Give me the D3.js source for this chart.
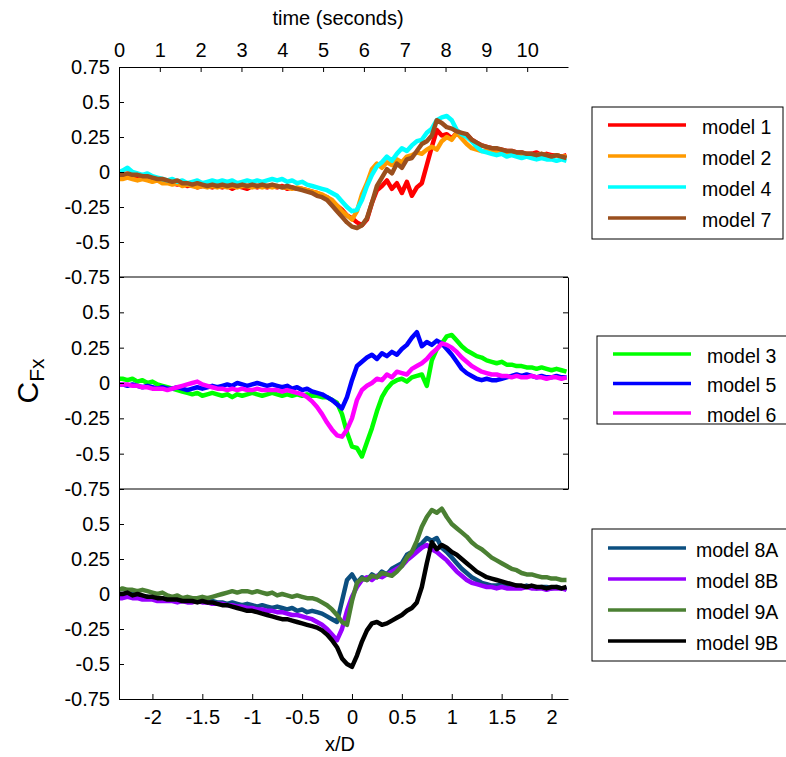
<!DOCTYPE html>
<html>
<head>
<meta charset="utf-8">
<script src="https://cdn.jsdelivr.net/npm/d3@7"></script>
<style>
  html, body { margin: 0; background: #fff; overflow: hidden; }
  svg { display: block; }
  text { font-family: "Liberation Sans", Arial, sans-serif; fill: #000; }
</style>
</head>
<body>
<div class="canvas"></div>
<script>
// sample positions (x/D)
const xd = [-2.33,
  -2.30,-2.25,-2.20,-2.15,-2.10,-2.05,-2.00,-1.95,-1.90,-1.85,
  -1.80,-1.75,-1.70,-1.65,-1.60,-1.55,-1.50,-1.45,-1.40,-1.35,
  -1.30,-1.25,-1.20,-1.15,-1.10,-1.05,-1.00,-0.95,-0.90,-0.85,
  -0.80,-0.75,-0.70,-0.65,-0.60,-0.55,-0.50,-0.45,-0.40,-0.35,
  -0.30,-0.25,-0.20,-0.15,-0.10,-0.05,0.00,0.05,0.10,0.15,
  0.20,0.25,0.30,0.35,0.40,0.45,0.50,0.55,0.60,0.65,
  0.70,0.75,0.80,0.85,0.90,0.95,1.00,1.05,1.10,1.15,
  1.20,1.25,1.30,1.35,1.40,1.45,1.50,1.55,1.60,1.65,
  1.70,1.75,1.80,1.85,1.90,1.95,2.00,2.05,2.10,2.15];

// top panel
const model1 = [-0.03,
  -0.03,-0.02,-0.03,-0.04,-0.03,-0.05,-0.05,-0.06,-0.07,-0.07,
  -0.08,-0.09,-0.08,-0.10,-0.09,-0.11,-0.10,-0.10,-0.11,-0.10,
  -0.11,-0.10,-0.12,-0.10,-0.11,-0.12,-0.10,-0.11,-0.10,-0.11,
  -0.10,-0.11,-0.10,-0.12,-0.11,-0.12,-0.12,-0.13,-0.14,-0.15,
  -0.17,-0.18,-0.21,-0.24,-0.27,-0.31,-0.33,-0.36,-0.38,-0.34,
  -0.22,-0.13,-0.10,-0.06,-0.12,-0.08,-0.15,-0.07,-0.17,-0.11,
  -0.08,0.05,0.18,0.30,0.26,0.27,0.24,0.28,0.26,0.27,
  0.23,0.21,0.19,0.18,0.17,0.16,0.16,0.15,0.15,0.14,
  0.14,0.13,0.13,0.14,0.12,0.13,0.12,0.12,0.11,0.12];
const model2 = [-0.05,
  -0.05,-0.04,-0.05,-0.06,-0.05,-0.06,-0.07,-0.06,-0.08,-0.08,
  -0.09,-0.08,-0.10,-0.09,-0.10,-0.11,-0.10,-0.11,-0.10,-0.11,
  -0.10,-0.11,-0.10,-0.11,-0.10,-0.10,-0.11,-0.10,-0.11,-0.10,
  -0.11,-0.10,-0.11,-0.11,-0.12,-0.11,-0.12,-0.13,-0.14,-0.15,
  -0.16,-0.18,-0.20,-0.24,-0.28,-0.31,-0.34,-0.28,-0.16,-0.08,
  0.02,0.06,0.03,0.07,0.05,0.09,0.07,0.11,0.12,0.14,
  0.13,0.16,0.18,0.16,0.22,0.25,0.23,0.28,0.24,0.20,
  0.17,0.16,0.15,0.15,0.14,0.14,0.13,0.14,0.13,0.13,
  0.12,0.13,0.12,0.12,0.13,0.12,0.11,0.12,0.11,0.11];
const model4 = [0.00,
  0.01,0.03,0.00,-0.01,-0.02,-0.01,-0.03,-0.04,-0.05,-0.06,
  -0.05,-0.07,-0.06,-0.08,-0.07,-0.06,-0.08,-0.07,-0.06,-0.07,
  -0.06,-0.07,-0.06,-0.08,-0.07,-0.06,-0.07,-0.06,-0.07,-0.06,
  -0.05,-0.06,-0.05,-0.07,-0.06,-0.08,-0.07,-0.09,-0.10,-0.11,
  -0.12,-0.13,-0.15,-0.17,-0.21,-0.25,-0.28,-0.27,-0.20,-0.10,
  -0.02,0.04,0.07,0.11,0.08,0.13,0.17,0.15,0.19,0.22,
  0.23,0.28,0.31,0.37,0.39,0.40,0.37,0.30,0.27,0.25,
  0.22,0.18,0.15,0.14,0.13,0.12,0.13,0.11,0.12,0.11,
  0.10,0.11,0.10,0.09,0.10,0.09,0.09,0.08,0.09,0.08];
const model7 = [-0.02,
  -0.02,-0.01,-0.02,-0.02,-0.03,-0.03,-0.04,-0.05,-0.05,-0.06,
  -0.07,-0.06,-0.08,-0.08,-0.09,-0.08,-0.09,-0.10,-0.09,-0.10,
  -0.09,-0.10,-0.09,-0.10,-0.09,-0.10,-0.09,-0.10,-0.09,-0.10,
  -0.09,-0.10,-0.11,-0.10,-0.11,-0.12,-0.13,-0.14,-0.15,-0.17,
  -0.18,-0.20,-0.24,-0.28,-0.32,-0.36,-0.39,-0.40,-0.38,-0.33,
  -0.22,-0.10,-0.04,0.02,-0.01,0.06,0.03,0.09,0.10,0.15,
  0.20,0.22,0.26,0.37,0.35,0.32,0.31,0.29,0.28,0.27,
  0.23,0.21,0.19,0.18,0.17,0.17,0.16,0.15,0.15,0.14,
  0.14,0.13,0.13,0.12,0.13,0.12,0.11,0.12,0.11,0.10];

// middle panel
const model3 = [0.03,
  0.03,0.02,0.03,0.01,0.02,0.00,0.01,-0.01,-0.02,-0.03,
  -0.04,-0.05,-0.06,-0.07,-0.08,-0.07,-0.09,-0.08,-0.07,-0.08,
  -0.09,-0.08,-0.10,-0.08,-0.09,-0.08,-0.07,-0.08,-0.09,-0.08,
  -0.07,-0.08,-0.09,-0.08,-0.09,-0.08,-0.09,-0.08,-0.09,-0.09,
  -0.10,-0.10,-0.12,-0.14,-0.22,-0.35,-0.45,-0.46,-0.52,-0.42,
  -0.32,-0.20,-0.10,-0.04,0.00,0.02,0.03,0.01,0.04,0.05,
  0.06,-0.02,0.16,0.24,0.28,0.33,0.34,0.30,0.26,0.23,
  0.21,0.19,0.18,0.16,0.15,0.14,0.15,0.13,0.13,0.12,
  0.12,0.11,0.11,0.10,0.11,0.10,0.09,0.10,0.09,0.08];
const model5 = [-0.01,
  -0.01,-0.02,-0.01,-0.02,-0.03,-0.02,-0.03,-0.04,-0.03,-0.04,
  -0.04,-0.03,-0.04,-0.05,-0.04,-0.03,-0.04,-0.03,-0.02,-0.03,
  -0.02,-0.01,-0.02,0.00,-0.01,-0.02,-0.01,0.00,-0.01,-0.02,
  -0.01,-0.02,-0.03,-0.02,-0.04,-0.03,-0.05,-0.04,-0.06,-0.07,
  -0.08,-0.10,-0.12,-0.15,-0.18,-0.10,0.02,0.12,0.15,0.18,
  0.20,0.17,0.21,0.19,0.22,0.20,0.24,0.27,0.32,0.36,
  0.26,0.29,0.27,0.30,0.28,0.24,0.20,0.15,0.10,0.07,
  0.05,0.03,0.02,0.03,0.02,0.02,0.03,0.04,0.05,0.06,
  0.05,0.06,0.05,0.04,0.05,0.04,0.04,0.05,0.04,0.04];
const model6 = [-0.01,
  -0.01,-0.01,-0.02,-0.02,-0.03,-0.03,-0.04,-0.04,-0.04,-0.05,
  -0.04,-0.03,-0.02,-0.01,0.00,0.01,-0.01,-0.02,-0.03,-0.04,
  -0.04,-0.05,-0.04,-0.05,-0.04,-0.05,-0.05,-0.04,-0.05,-0.05,
  -0.05,-0.05,-0.06,-0.05,-0.06,-0.07,-0.08,-0.10,-0.13,-0.17,
  -0.22,-0.28,-0.33,-0.37,-0.38,-0.33,-0.25,-0.12,-0.05,-0.02,
  0.00,0.03,0.02,0.06,0.04,0.08,0.07,0.06,0.10,0.12,
  0.14,0.17,0.21,0.24,0.28,0.27,0.25,0.22,0.18,0.15,
  0.12,0.10,0.08,0.07,0.06,0.06,0.05,0.05,0.04,0.05,
  0.04,0.04,0.05,0.04,0.04,0.03,0.04,0.04,0.03,0.04];

// bottom panel
const model8A = [0.00,
  0.00,-0.01,0.00,-0.01,-0.02,-0.02,-0.03,-0.03,-0.03,-0.04,
  -0.04,-0.04,-0.05,-0.05,-0.04,-0.05,-0.05,-0.06,-0.05,-0.06,
  -0.06,-0.07,-0.06,-0.07,-0.08,-0.07,-0.08,-0.09,-0.08,-0.09,
  -0.10,-0.09,-0.10,-0.11,-0.10,-0.12,-0.11,-0.13,-0.12,-0.13,
  -0.14,-0.16,-0.18,-0.20,-0.05,0.10,0.14,0.08,0.12,0.10,
  0.14,0.12,0.16,0.14,0.18,0.20,0.22,0.28,0.30,0.34,
  0.36,0.40,0.38,0.40,0.33,0.30,0.26,0.22,0.18,0.15,
  0.12,0.10,0.08,0.07,0.06,0.06,0.07,0.06,0.05,0.06,
  0.05,0.06,0.05,0.04,0.05,0.05,0.04,0.05,0.04,0.04];
const model8B = [-0.03,
  -0.03,-0.02,-0.03,-0.03,-0.04,-0.04,-0.04,-0.05,-0.05,-0.05,
  -0.05,-0.06,-0.05,-0.06,-0.06,-0.05,-0.06,-0.06,-0.07,-0.07,
  -0.07,-0.08,-0.08,-0.09,-0.09,-0.10,-0.10,-0.11,-0.11,-0.12,
  -0.12,-0.13,-0.13,-0.14,-0.15,-0.15,-0.16,-0.17,-0.18,-0.20,
  -0.22,-0.25,-0.29,-0.33,-0.25,-0.12,-0.02,0.05,0.10,0.12,
  0.10,0.13,0.12,0.14,0.16,0.18,0.20,0.24,0.27,0.30,
  0.33,0.35,0.32,0.30,0.27,0.24,0.20,0.16,0.13,0.10,
  0.08,0.07,0.06,0.05,0.05,0.04,0.05,0.04,0.04,0.04,
  0.04,0.05,0.04,0.04,0.04,0.03,0.04,0.04,0.04,0.03];
const model9A = [0.03,
  0.04,0.03,0.03,0.02,0.03,0.02,0.01,0.00,0.01,-0.01,
  -0.02,-0.01,-0.03,-0.02,-0.03,-0.03,-0.02,-0.03,-0.02,-0.01,
  0.00,0.01,0.02,0.01,0.02,0.02,0.01,0.02,0.01,0.00,
  0.01,-0.01,0.00,-0.01,-0.02,-0.01,-0.02,-0.03,-0.03,-0.04,
  -0.06,-0.08,-0.11,-0.15,-0.20,-0.22,-0.05,0.08,0.11,0.10,
  0.13,0.12,0.15,0.14,0.13,0.16,0.20,0.26,0.30,0.38,
  0.48,0.55,0.60,0.58,0.61,0.55,0.50,0.47,0.44,0.41,
  0.37,0.34,0.32,0.29,0.26,0.24,0.22,0.20,0.18,0.17,
  0.15,0.14,0.14,0.13,0.12,0.12,0.11,0.11,0.10,0.10];
const model9B = [0.00,
  0.00,0.01,-0.01,0.00,-0.01,-0.02,-0.02,-0.03,-0.03,-0.04,
  -0.04,-0.04,-0.05,-0.05,-0.05,-0.06,-0.05,-0.06,-0.06,-0.07,
  -0.08,-0.08,-0.09,-0.10,-0.11,-0.12,-0.12,-0.13,-0.14,-0.15,
  -0.16,-0.17,-0.18,-0.18,-0.19,-0.20,-0.21,-0.22,-0.23,-0.24,
  -0.26,-0.29,-0.33,-0.38,-0.46,-0.50,-0.52,-0.44,-0.34,-0.26,
  -0.21,-0.20,-0.22,-0.21,-0.19,-0.17,-0.15,-0.12,-0.10,-0.06,
  0.05,0.22,0.37,0.32,0.35,0.33,0.30,0.28,0.25,0.22,
  0.19,0.16,0.14,0.12,0.11,0.10,0.09,0.08,0.07,0.06,
  0.06,0.05,0.06,0.05,0.05,0.04,0.05,0.05,0.04,0.05];

// names, colours, ticks
const topNames = ["model 1", "model 2", "model 4", "model 7"];
const midNames = ["model 3", "model 5", "model 6"];
const botNames = ["model 8A", "model 8B", "model 9A", "model 9B"];
const topColors = ["#ff0000", "#ff9a00", "#00ffff", "#9a4f1e"];
const midColors = ["#00ff00", "#0000ff", "#ff00ff"];
const botColors = ["#0c4f80", "#9900ff", "#4b8033", "#000000"];
const yTicksTop = [0.75, 0.5, 0.25, 0, -0.25, -0.5, -0.75];
const yTicks = [0.5, 0.25, 0, -0.25, -0.5, -0.75];
const xTicks = [-2, -1.5, -1, -0.5, 0, 0.5, 1, 1.5, 2];
const timeTicks = [0, 1, 2, 3, 4, 5, 6, 7, 8, 9, 10];

// layout
const w = 786, h = 757;
const left = 119, right = 568;
const panels = [
  { top: 67, bottom: 277, series: [model1, model2, model4, model7], names: topNames, colors: topColors, ticks: yTicksTop,
    legend: { x: 592, y: 107, w: 191, h: 132, lx: 608, tx: 702, ry: 125, gap: 31 } },
  { top: 277, bottom: 489, series: [model3, model5, model6], names: midNames, colors: midColors, ticks: yTicks,
    legend: { x: 597, y: 336, w: 230, h: 88, lx: 613, tx: 707, ry: 354, gap: 29.5 } },
  { top: 489, bottom: 699, series: [model8A, model8B, model9A, model9B], names: botNames, colors: botColors, ticks: yTicks,
    legend: { x: 592, y: 529, w: 230, h: 132, lx: 608, tx: 696, ry: 548, gap: 31 } }
];

const svg = d3.select(".canvas").append("svg").attr("width", w).attr("height", h);

const x = d3.scaleLinear().domain([-2.335, 2.165]).range([left, right]);
const t = d3.scaleLinear().domain([0, 11]).range([left, right]);

const fmt = (d) => String(d);

panels.forEach((p, k) => {
  const y = d3.scaleLinear().domain([-0.75, 0.75]).range([p.bottom, p.top]);

  svg.append("clipPath").attr("id", "clip" + k)
    .append("rect").attr("x", left).attr("y", p.top).attr("width", right - left).attr("height", p.bottom - p.top);

  const line = d3.line().x((d, i) => x(xd[i])).y((d) => y(d));
  svg.append("g").attr("clip-path", `url(#clip${k})`)
    .selectAll("path").data(p.series).join("path")
    .attr("d", line)
    .attr("fill", "none")
    .attr("stroke", (d, i) => p.colors[i])
    .attr("stroke-width", 4.5)
    .attr("stroke-linejoin", "round");

  // left axis
  const ax = svg.append("g").attr("transform", `translate(${left},0)`)
    .call(d3.axisLeft(y).tickValues(p.ticks).tickFormat(fmt).tickSize(-5).tickSizeOuter(0).tickPadding(9));
  ax.selectAll("text").attr("font-size", 20).attr("font-family", null);

  // legend
  const L = p.legend;
  const lg = svg.append("g");
  lg.append("rect").attr("x", L.x).attr("y", L.y).attr("width", L.w).attr("height", L.h)
    .attr("fill", "#fff").attr("stroke", "#000").attr("stroke-width", 1);
  p.names.forEach((n, i) => {
    const yy = L.ry + i * L.gap;
    lg.append("line").attr("x1", L.lx).attr("x2", L.lx + 78).attr("y1", yy).attr("y2", yy)
      .attr("stroke", p.colors[i]).attr("stroke-width", 3.5);
    lg.append("text").attr("x", L.tx).attr("y", yy + 8.5).attr("font-size", 19.5).text(n);
  });
});

// middle panel box: top, bottom and right edges
const yMid = d3.scaleLinear().domain([-0.75, 0.75]).range([489, 277]);
svg.append("g").attr("transform", `translate(${right},0)`)
  .call(d3.axisRight(yMid).tickValues([0.75, 0.5, 0.25, 0, -0.25, -0.5, -0.75]).tickFormat("").tickSize(-5).tickSizeOuter(0));
[277, 489].forEach((yy) => {
  svg.append("line").attr("x1", left).attr("x2", right).attr("y1", yy).attr("y2", yy).attr("stroke", "#000");
});

// top time axis
const topAx = svg.append("g").attr("transform", "translate(0,67)")
  .call(d3.axisTop(t).tickValues(timeTicks).tickFormat(fmt).tickSize(-5).tickSizeOuter(0).tickPadding(10));
topAx.selectAll("text").attr("font-size", 20).attr("font-family", null);

// bottom x/D axis
const botAx = svg.append("g").attr("transform", "translate(0,699)")
  .call(d3.axisBottom(x).tickValues(xTicks).tickFormat(fmt).tickSize(-5).tickSizeOuter(0).tickPadding(11));
botAx.selectAll("text").attr("font-size", 20).attr("font-family", null);

svg.selectAll(".domain, .tick line").attr("stroke", "#000");

// titles
svg.append("text").attr("x", 338).attr("y", 25).attr("text-anchor", "middle").attr("font-size", 20).text("time (seconds)");
svg.append("text").attr("x", 340).attr("y", 751).attr("text-anchor", "middle").attr("font-size", 20).text("x/D");

const yl = svg.append("text").attr("transform", "translate(38,381) rotate(-90)").attr("text-anchor", "middle");
yl.append("tspan").attr("font-size", 30).text("C");
yl.append("tspan").attr("font-size", 21).attr("dy", 6).text("Fx");
</script>
</body>
</html>
